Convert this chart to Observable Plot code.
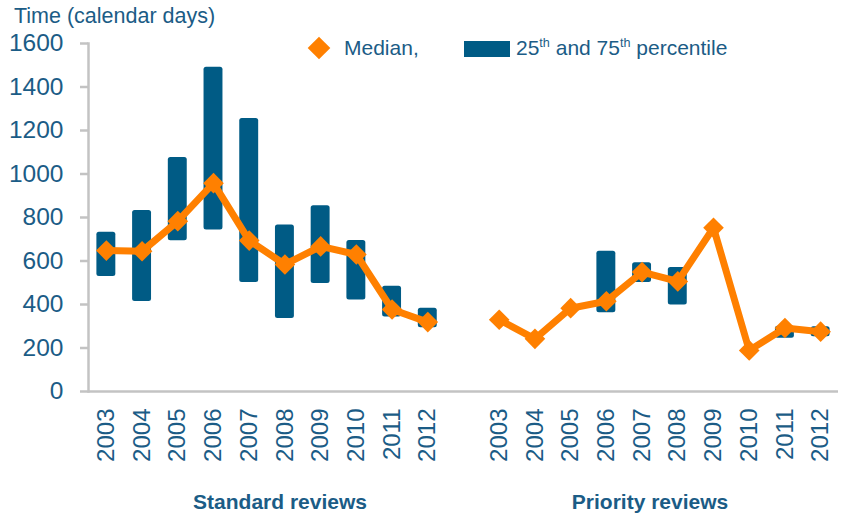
<!DOCTYPE html>
<html>
<head>
<meta charset="utf-8">
<script src="https://cdn.jsdelivr.net/npm/d3@7"></script>
<script src="https://cdn.jsdelivr.net/npm/@observablehq/plot@0.6"></script>
<style>
  html, body { margin: 0; padding: 0; background: #fff; }
  #wrap { position: relative; width: 846px; height: 515px; font-family: "Liberation Sans", Arial, sans-serif; color: #1B5C86; }
  #wrap svg { position: absolute; left: 0; top: 0; }
  .lbl { position: absolute; white-space: nowrap; }
  sup { font-size: 0.6em; vertical-align: 0.6em; line-height: 0; }
</style>
</head>
<body>
<div id="wrap"></div>
<script>
const years = [2003, 2004, 2005, 2006, 2007, 2008, 2009, 2010, 2011, 2012];
const groups = ["Standard reviews", "Priority reviews"];
const stdMedian = [648, 645, 783, 958, 694, 584, 667, 630, 377, 319];
const stdQ25 = [529, 414, 693, 743, 501, 336, 497, 421, 342, 293];
const stdQ75 = [732, 832, 1076, 1491, 1255, 766, 854, 694, 484, 383];
const priMedian = [330, 242, 383, 415, 549, 506, 753, 189, 292, 275];
const priQ25 = [null, null, null, 362, 501, 398, null, null, 245, 252];
const priQ75 = [null, null, null, 645, 592, 570, null, null, 300, 298];
const yTicks = [0, 200, 400, 600, 800, 1000, 1200, 1400, 1600];

const blue = "#005B85";
const orange = "#FF8000";
const textColor = "#1B5C86";
const grey = "#C3C3C3";

const rows = [];
years.forEach((yr, i) => rows.push({group: groups[0], key: "S" + yr, year: yr, median: stdMedian[i], q25: stdQ25[i], q75: stdQ75[i]}));
years.forEach((yr, i) => rows.push({group: groups[1], key: "P" + yr, year: yr, median: priMedian[i], q25: priQ25[i], q75: priQ75[i]}));
const domain = [...years.map(y => "S" + y), "gap", ...years.map(y => "P" + y)];
const bars = rows.filter(d => d.q25 != null);

const chart = Plot.plot({
  width: 846,
  height: 515,
  marginLeft: 88,
  marginRight: 8,
  marginTop: 43,
  marginBottom: 124,
  style: {fontFamily: "Liberation Sans, Arial, sans-serif", color: textColor, background: "transparent"},
  x: {type: "band", domain, paddingInner: 0.47, paddingOuter: 0.235, round: false, label: null},
  y: {domain: [0, 1600], label: null},
  marks: [
    Plot.axisY({ticks: yTicks, tickFormat: d => String(d), tickSize: 8, tickPadding: 17, fontSize: 24.5, stroke: grey, strokeWidth: 2.5, label: null, fill: textColor}),
    Plot.axisX({tickSize: 0, tickPadding: 17, tickRotate: -90, fontSize: 24, fill: textColor, label: null,
      tickFormat: k => k === "gap" ? "" : k.slice(1)}),
    Plot.frame({anchor: "left", stroke: grey, strokeWidth: 2.5}),
    Plot.ruleY([0], {stroke: grey, strokeWidth: 2.5}),
    Plot.barY(bars, {x: "key", y1: "q25", y2: "q75", fill: blue, rx: 2.5}),
    Plot.line(rows, {x: "key", y: "median", z: "group", stroke: orange, strokeWidth: 7, strokeLinejoin: "miter"}),
    Plot.dot(rows, {x: "key", y: "median", symbol: "diamond2", r: 9.3, fill: orange, stroke: "none"})
  ]
});

const wrap = document.getElementById("wrap");
wrap.appendChild(chart);

function addLabel(html, style) {
  const d = document.createElement("div");
  d.className = "lbl";
  d.innerHTML = html;
  Object.assign(d.style, style);
  wrap.appendChild(d);
  return d;
}
addLabel("Time (calendar days)", {left: "14px", top: "4px", fontSize: "21.5px"});
// legend
addLabel("", {left: "311px", top: "40px", width: "16px", height: "16px", background: orange, transform: "rotate(45deg)"});
addLabel("Median,", {left: "344px", top: "36px", fontSize: "21px"});
addLabel("", {left: "464px", top: "41px", width: "46px", height: "16px", background: blue});
addLabel("25<sup>th</sup> and 75<sup>th</sup> percentile", {left: "516px", top: "36px", fontSize: "21px"});
// group labels
addLabel(groups[0], {left: "280px", top: "490px", fontSize: "21px", fontWeight: "bold", transform: "translateX(-50%)"});
addLabel(groups[1], {left: "650px", top: "490px", fontSize: "21px", fontWeight: "bold", transform: "translateX(-50%)"});
</script>
</body>
</html>
